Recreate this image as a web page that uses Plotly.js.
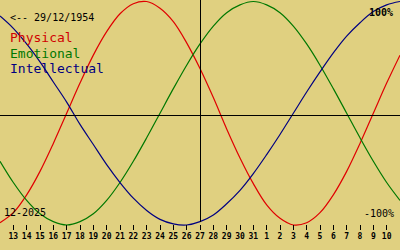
<!DOCTYPE html>
<html>
<head>
<meta charset="utf-8">
<script src="https://cdn.plot.ly/plotly-3.0.1.min.js"></script>
<style>html,body{margin:0;padding:0;background:#E0D080;}#chart{width:400px;height:250px;}</style>
</head>
<body>
<div id="chart"></div>
<script>
// Day positions (12 = 12 Dec 2025 ... 42 = 11 Jan 2026)
var days = [12,13,14,15,16,17,18,19,20,21,22,23,24,25,26,27,28,29,30,31,32,33,34,35,36,37,38,39,40,41,42];
// Values (-1 = -100%, 1 = 100%)
var physical = [-0.98,-0.89,-0.73,-0.52,-0.27,0.00,0.27,0.52,0.73,0.89,0.98,1.00,0.94,0.82,0.63,0.40,0.14,-0.14,-0.40,-0.63,-0.82,-0.94,-1.00,-0.98,-0.89,-0.73,-0.52,-0.27,0.00,0.27,0.52];
var emotional = [-0.43,-0.62,-0.78,-0.90,-0.97,-1.00,-0.97,-0.90,-0.78,-0.62,-0.43,-0.22,0.00,0.22,0.43,0.62,0.78,0.90,0.97,1.00,0.97,0.90,0.78,0.62,0.43,0.22,0.00,-0.22,-0.43,-0.62,-0.78];
var intellectual = [0.87,0.76,0.62,0.46,0.28,0.10,-0.10,-0.28,-0.46,-0.62,-0.76,-0.87,-0.95,-0.99,-1.00,-0.97,-0.91,-0.81,-0.69,-0.54,-0.37,-0.19,0.00,0.19,0.37,0.54,0.69,0.81,0.91,0.97,1.00];
var tickDays = [13,14,15,16,17,18,19,20,21,22,23,24,25,26,27,28,29,30,31,32,33,34,35,36,37,38,39,40,41];
var tickLabels = ["13","14","15","16","17","18","19","20","21","22","23","24","25","26","27","28","29","30","31","1","2","3","4","5","6","7","8","9","10"];
var today = 27;
var birthText = "<-- 29/12/1954";
var monthText = "12-2025";

var bg = "#E0D080";
var mono = "DejaVu Sans Mono";
var H = 230; // plot area height in px
var PXDAY = 400 / 30;
function py(p){ return 1 - p / H; }

var traces = [
  {x: days, y: physical, mode: "lines", line: {color: "#E00000", width: 1.2, shape: "spline"}, hoverinfo: "skip"},
  {x: days, y: emotional, mode: "lines", line: {color: "#007800", width: 1.2, shape: "spline"}, hoverinfo: "skip"},
  {x: days, y: intellectual, mode: "lines", line: {color: "#000080", width: 1.2, shape: "spline"}, hoverinfo: "skip"}
];

function ann(text, x, y, anchor, size, color, bold){
  return {text: bold ? "<b>" + text + "</b>" : text, x: x / 400, y: py(y), xref: "paper", yref: "paper",
    xanchor: anchor, yanchor: "middle", showarrow: false,
    font: {family: mono, size: size, color: color}, borderpad: 0};
}

var layout = {
  width: 400, height: 250,
  margin: {l: 0, r: 0, t: 0, b: 20},
  paper_bgcolor: bg, plot_bgcolor: bg,
  showlegend: false,
  xaxis: {range: [12, 42], tickvals: tickDays, ticktext: tickLabels, ticks: "inside", ticklen: 5,
    tickwidth: 1, tickcolor: "#000", showgrid: false, zeroline: false, showline: false,
    tickfont: {family: mono, size: 8, color: "#000", weight: "bold"}, fixedrange: true},
  yaxis: {range: [-1.0448, 1.0134], showgrid: false, zeroline: false, showline: false,
    showticklabels: false, ticks: "", fixedrange: true},
  shapes: [
    {type: "line", xref: "paper", yref: "paper", x0: 0, x1: 1, y0: py(115.5), y1: py(115.5), line: {color: "#000", width: 1}},
    {type: "line", xref: "x", yref: "paper", x0: today + 0.5 / PXDAY, x1: today + 0.5 / PXDAY, y0: py(222), y1: 1, line: {color: "#000", width: 1}}
  ],
  annotations: [
    ann(birthText, 9, 17, "left", 10, "#000", false),
    ann("Physical", 9, 38, "left", 13, "#D00000", false),
    ann("Emotional", 9, 53, "left", 13, "#007800", false),
    ann("Intellectual", 9, 68, "left", 13, "#000080", false),
    ann("100%", 394, 12, "right", 10, "#000", true),
    ann("-100%", 395, 213, "right", 10, "#000", false),
    ann(monthText, 3, 212, "left", 10, "#000", false)
  ]
};

Plotly.newPlot("chart", traces, layout, {displayModeBar: false, staticPlot: true});
</script>
</body>
</html>
